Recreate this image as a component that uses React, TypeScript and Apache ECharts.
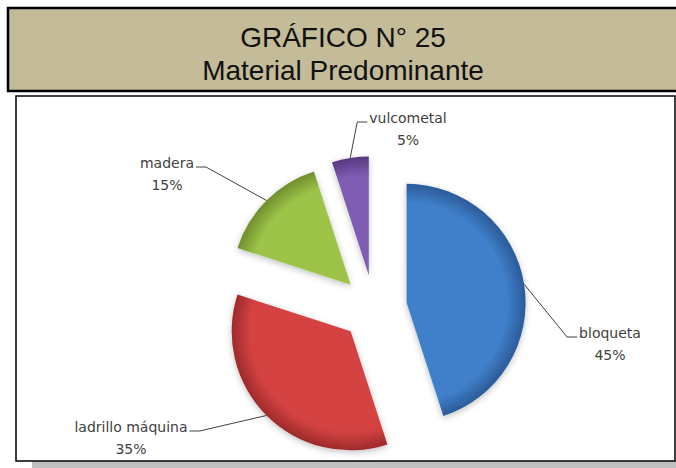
import React, { useEffect, useRef } from "react";
import * as echarts from "echarts";

const categories = ["bloqueta", "ladrillo máquina", "madera", "vulcometal"];
const values = [45, 35, 15, 5];
const titleLines = ["GRÁFICO N° 25", "Material Predominante"];

const baseColors = ["#4080CA", "#D44343", "#9DC449", "#7F5DB3"];
const rimColors = ["#2B5B99", "#9E2A2A", "#6F8F2C", "#56387F"];

const CX = 374;
const CY = 308;
const R = 119;
const EXPLODE = 33;

// label placement (block centre x, name-line centre y, side on which the leader attaches)
const labelPlacement: Record<string, { cx: number; ny: number; side: "left" | "right" }> = {
  bloqueta: { cx: 610, ny: 333, side: "left" },
  "ladrillo máquina": { cx: 131, ny: 427, side: "right" },
  madera: { cx: 167, ny: 163, side: "right" },
  vulcometal: { cx: 408, ny: 118, side: "left" },
};
const LINE_H = 22;
const LABEL_FONT = 14;

export default function App() {
  const ref = useRef<HTMLDivElement>(null);
  useEffect(() => {
    document.body.style.margin = "0";
    const chart = echarts.init(ref.current!, null, { renderer: "svg" });
    const total = values.reduce((a, b) => a + b, 0);
    let acc = 0;
    const series = categories.map((cat, k) => {
      const midFrac = (acc + values[k] / 2) / total;
      acc += values[k];
      const ang = midFrac * 2 * Math.PI;
      const cx = CX + EXPLODE * Math.sin(ang);
      const cy = CY - EXPLODE * Math.cos(ang);
      const data = categories.map((name, i) => {
        if (i !== k) {
          return {
            name,
            value: values[i],
            itemStyle: { color: "rgba(0,0,0,0)", shadowBlur: 0, borderWidth: 0 },
            label: { show: false },
            labelLine: { show: false },
          };
        }
        return {
          name,
          value: values[i],
          itemStyle: {
            color: new echarts.graphic.RadialGradient(cx, cy, R, [
              { offset: 0, color: baseColors[i] },
              { offset: 0.84, color: baseColors[i] },
              { offset: 1, color: rimColors[i] },
            ], true),
            shadowBlur: 6,
            shadowColor: "rgba(0,0,0,0.25)",
            shadowOffsetY: 2,
          },
        };
      });
      return {
        type: "pie",
        name: cat,
        center: [cx, cy],
        radius: [0, R],
        startAngle: 90,
        clockwise: true,
        silent: true,
        emphasis: { disabled: true },
        label: {
          show: true,
          position: "outside",
          formatter: (p: any) => `{n|${p.name}}\n{p|${Math.round(p.percent)}%}`,
          rich: {
            n: { align: "center", fontSize: LABEL_FONT, fontFamily: "DejaVu Sans", color: "#404040", lineHeight: LINE_H },
            p: { align: "center", fontSize: LABEL_FONT, fontFamily: "DejaVu Sans", color: "#404040", lineHeight: LINE_H },
          },
        },
        labelLine: {
          show: true,
          length: 20,
          length2: 10,
          lineStyle: { color: "#404040", width: 1 },
        },
        labelLayout: (params: any) => {
          if (params.dataIndex !== k) return {};
          const pl = labelPlacement[cat];
          const w = params.labelRect.width;
          const start = params.labelLinePoints ? params.labelLinePoints[0] : [cx, cy];
          const ay = pl.ny + 4;
          const endX = pl.side === "left" ? pl.cx - w / 2 - 2 : pl.cx + w / 2 + 2;
          const midX = pl.side === "left" ? endX - 10 : endX + 10;
          return {
            x: pl.cx,
            y: pl.ny - LINE_H / 2,
            align: "center",
            verticalAlign: "top",
            labelLinePoints: [start, [midX, ay], [endX, ay]],
          };
        },
        data,
      };
    });
    chart.setOption({
      animation: false,
      graphic: [
        {
          type: "rect",
          z: 0,
          shape: { x: 8, y: 8, width: 690, height: 83 },
          style: { fill: "#C4BC98", stroke: "#000", lineWidth: 2.5 },
        },
        {
          type: "rect",
          z: 0,
          shape: { x: 32, y: 461, width: 650, height: 8 },
          style: { fill: "#BFBFBF" },
        },
        {
          type: "rect",
          z: 0,
          shape: { x: 16, y: 96, width: 659, height: 365 },
          style: { fill: "#fff", stroke: "#000", lineWidth: 1.5 },
        },
        {
          type: "text",
          z: 1,
          x: 343,
          y: 37,
          style: {
            text: titleLines[0],
            font: "28px 'Liberation Sans', Arial, sans-serif",
            fill: "#111",
            align: "center",
            verticalAlign: "middle",
          },
        },
        {
          type: "text",
          z: 1,
          x: 343,
          y: 70,
          style: {
            text: titleLines[1],
            font: "28px 'Liberation Sans', Arial, sans-serif",
            fill: "#111",
            align: "center",
            verticalAlign: "middle",
          },
        },
      ],
      series,
    });
    return () => chart.dispose();
  }, []);
  return <div ref={ref} style={{ position: "absolute", left: 0, top: 0, width: 676, height: 468 }} />;
}
